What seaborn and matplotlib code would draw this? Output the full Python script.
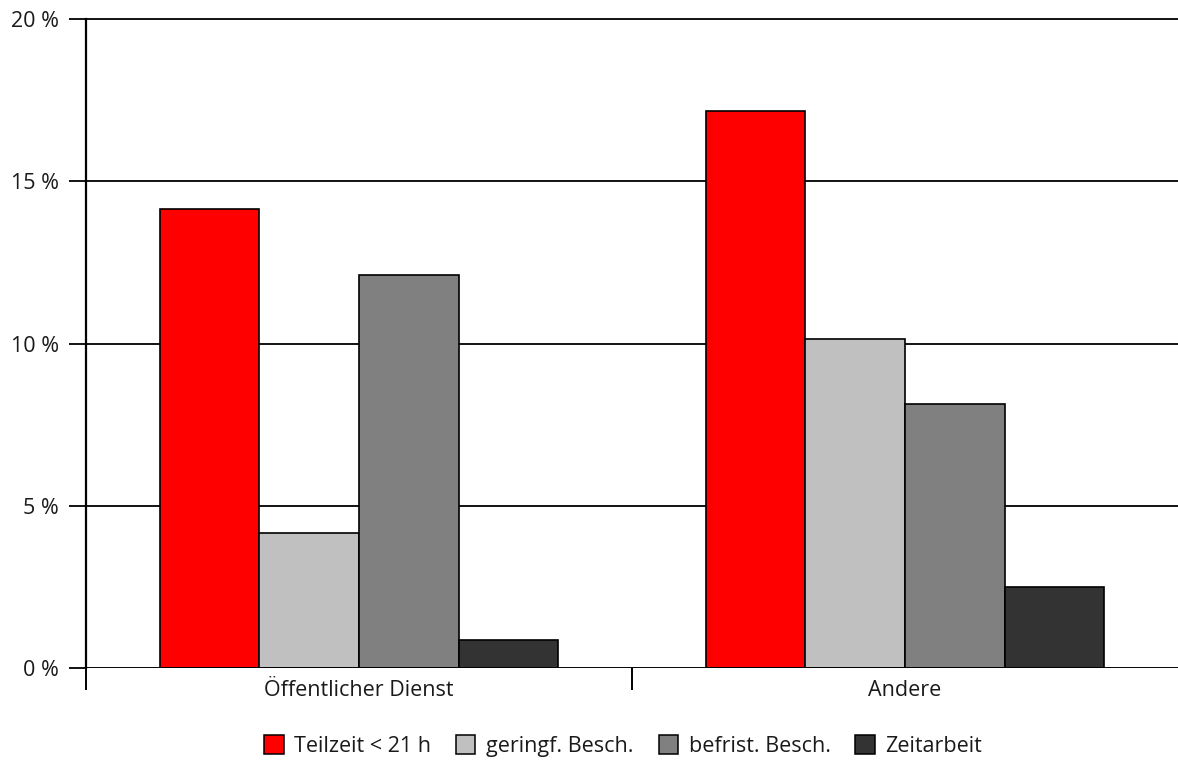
import matplotlib
matplotlib.use("Agg")
import matplotlib.pyplot as plt
import seaborn as sns
import pandas as pd
from matplotlib.ticker import FixedLocator, FuncFormatter

# Data: share of employment forms by sector (in %)
sectors = ["Öffentlicher Dienst", "Andere"]
forms = ["Teilzeit < 21 h", "geringf. Besch.", "befrist. Besch.", "Zeitarbeit"]
teilzeit = [14.15, 17.15]
geringf = [4.15, 10.15]
befrist = [12.1, 8.15]
zeitarbeit = [0.85, 2.5]
colors = ["#FF0000", "#C0C0C0", "#808080", "#333333"]

rows = []
for i, s in enumerate(sectors):
    for f, vals in zip(forms, [teilzeit, geringf, befrist, zeitarbeit]):
        rows.append({"sector": s, "form": f, "value": vals[i]})
df = pd.DataFrame(rows)

sns.set_theme(style="white")
plt.rcParams["font.family"] = ["Open Sans", "DejaVu Sans"]

FS = 15.5
TXT = "#1a1a1a"

fig = plt.figure(figsize=(11.78, 7.62), dpi=100)
ax = fig.add_axes([86 / 1178, 1 - 668 / 762, 1 - 86 / 1178, (668 - 19) / 762])

sns.barplot(data=df, x="sector", y="value", hue="form", order=sectors,
            hue_order=forms, palette=colors, width=0.73, gap=0,
            edgecolor="black", linewidth=1.2, saturation=1, ax=ax, zorder=3)

ax.set_xlim(-0.5, 1.5)
ax.set_ylim(0, 20)

# Horizontal grid lines
for v in [5, 10, 15, 20]:
    ax.axhline(v, color="black", lw=1.3, zorder=1, clip_on=False)
ax.axhline(0, color="black", lw=2.1, zorder=4)

for side in ["top", "right", "bottom"]:
    ax.spines[side].set_visible(False)
ax.spines["left"].set_color("black")
ax.spines["left"].set_linewidth(1.6)

ax.yaxis.set_major_locator(FixedLocator([0, 5, 10, 15, 20]))
ax.yaxis.set_major_formatter(FuncFormatter(lambda v, p: f"{int(v)} %"))
ax.tick_params(axis="y", which="major", left=True, length=12.5, width=1.3,
               color="black", pad=7, labelsize=FS, labelcolor=TXT)

ax.xaxis.set_minor_locator(FixedLocator([-0.5, 0.5]))
ax.tick_params(axis="x", which="minor", bottom=True, length=16, width=1.4,
               color="black")
ax.tick_params(axis="x", which="major", bottom=False, length=0, pad=9,
               labelsize=FS, labelcolor=TXT)

ax.set_xlabel("")
ax.set_ylabel("")
ax.grid(False)

handles, labels = ax.get_legend_handles_labels()
for h in handles:
    h.set_linewidth(1.1)
ax.legend(handles, labels, loc="center", bbox_to_anchor=(0.492, -0.12),
          ncol=4, frameon=False, fontsize=FS, handlelength=0.9,
          handleheight=1.0, handletextpad=0.5, columnspacing=1.15,
          labelcolor=TXT)

fig.savefig("out.png", dpi=100, facecolor="white")
